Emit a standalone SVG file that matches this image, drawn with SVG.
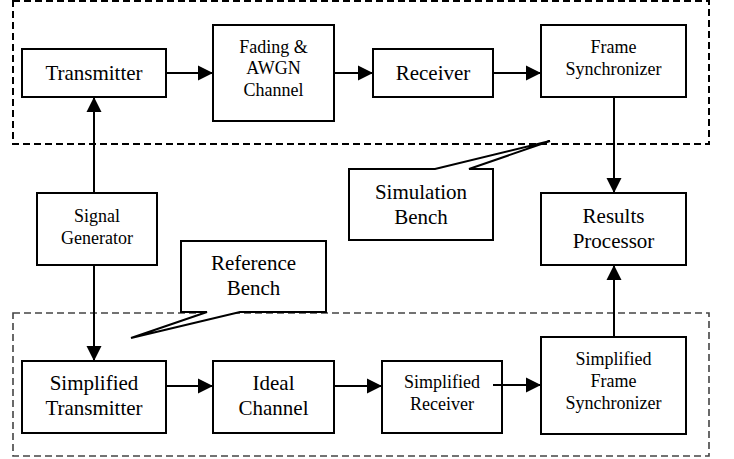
<svg xmlns="http://www.w3.org/2000/svg" width="734" height="459" viewBox="0 0 734 459">
<defs>
<marker id="ah" markerUnits="userSpaceOnUse" markerWidth="16" markerHeight="16" viewBox="0 0 16 16" refX="15" refY="8" orient="auto">
<path d="M0,0.5 L15,8 L0,15.5 Z" fill="#000"/>
</marker>
</defs>
<style>
.box{fill:#fff;stroke:#000;stroke-width:2}
.t{font-family:"Liberation Serif","Times New Roman",serif;fill:#000;text-anchor:middle}
.l{font-size:21px}
.s{font-size:18px}
.c{stroke:#000;stroke-width:2;fill:none}
.a{marker-end:url(#ah)}
.dash1{fill:none;stroke:#000;stroke-width:2;stroke-dasharray:7 4}
.dash2{fill:none;stroke:#444;stroke-width:1.6;stroke-dasharray:7 4}
</style>
<rect width="734" height="459" fill="#fff"/>
<g id="benches">
<rect class="dash1" x="13" y="1" width="696" height="143"/>
<rect class="dash2" x="13" y="313" width="696" height="143"/>
</g>
<g id="connectors">
<line class="c a" x1="166" y1="73" x2="213" y2="73"/>
<line class="c a" x1="334" y1="73" x2="373" y2="73"/>
<line class="c a" x1="493" y1="73" x2="541" y2="73"/>
<line class="c a" x1="614" y1="97" x2="614" y2="193"/>
<line class="c a" x1="614" y1="337" x2="614" y2="265"/>
<line class="c a" x1="94" y1="193" x2="94" y2="97"/>
<line class="c a" x1="94" y1="265" x2="94" y2="361"/>
<line class="c a" x1="166" y1="386" x2="213" y2="386"/>
<line class="c a" x1="334" y1="386" x2="382" y2="386"/>
<line class="c a" x1="493" y1="385" x2="541" y2="385"/>
</g>
<g id="transmitter">
<rect class="box" x="22" y="49" width="144" height="48"/>
<text class="t l" x="94" y="80">Transmitter</text>
</g>
<g id="fading-channel">
<rect class="box" x="213" y="25" width="121" height="96"/>
<text class="t s" x="273.5" y="53">Fading &amp;</text>
<text class="t s" x="273.5" y="74">AWGN</text>
<text class="t s" x="273.5" y="96">Channel</text>
</g>
<g id="receiver">
<rect class="box" x="373" y="49" width="120" height="48"/>
<text class="t l" x="433" y="80">Receiver</text>
</g>
<g id="frame-sync">
<rect class="box" x="541" y="25" width="145" height="72"/>
<text class="t s" x="613.5" y="53">Frame</text>
<text class="t s" x="613.5" y="75">Synchronizer</text>
</g>
<g id="results-processor">
<rect class="box" x="541" y="193" width="145" height="72"/>
<text class="t l" x="613.5" y="223">Results</text>
<text class="t l" x="613.5" y="248">Processor</text>
</g>
<g id="signal-generator">
<rect class="box" x="37" y="193" width="120" height="72"/>
<text class="t s" x="97" y="222">Signal</text>
<text class="t s" x="97" y="244">Generator</text>
</g>
<g id="simulation-bench">
<polygon class="box" points="349,169 435,169 550,141 469,169 493,169 493,240 349,240"/>
<text class="t l" x="421" y="199">Simulation</text>
<text class="t l" x="421" y="224">Bench</text>
</g>
<g id="reference-bench">
<polygon class="box" points="181,241 326,241 326,312 240,312 131,338 207,312 181,312"/>
<text class="t l" x="253.5" y="270">Reference</text>
<text class="t l" x="253.5" y="295">Bench</text>
</g>
<g id="simplified-transmitter">
<rect class="box" x="22" y="361" width="144" height="72"/>
<text class="t l" x="94" y="390">Simplified</text>
<text class="t l" x="94" y="415">Transmitter</text>
</g>
<g id="ideal-channel">
<rect class="box" x="213" y="361" width="121" height="72"/>
<text class="t l" x="273.5" y="390">Ideal</text>
<text class="t l" x="273.5" y="415">Channel</text>
</g>
<g id="simplified-receiver">
<rect class="box" x="382" y="361" width="120" height="72"/>
<text class="t s" x="442" y="388">Simplified</text>
<text class="t s" x="442" y="410">Receiver</text>
</g>
<line class="c" x1="493" y1="385" x2="502" y2="385"/>
<g id="simplified-frame-sync">
<rect class="box" x="541" y="337" width="145" height="97"/>
<text class="t s" x="613.5" y="365">Simplified</text>
<text class="t s" x="613.5" y="387">Frame</text>
<text class="t s" x="613.5" y="409">Synchronizer</text>
</g>
</svg>
